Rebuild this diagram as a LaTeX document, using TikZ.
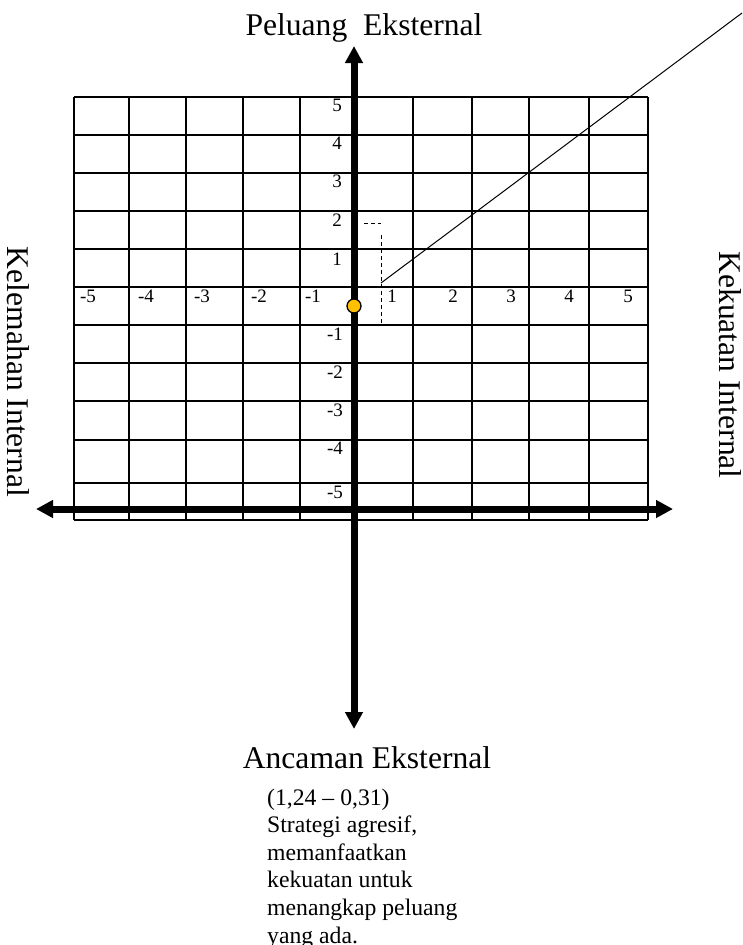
\documentclass[tikz,border=0pt]{standalone}
\usepackage{fontspec}
\setmainfont{Liberation Serif}
\usetikzlibrary{arrows.meta}
\definecolor{kuning}{HTML}{FFC000}
\tikzset{
  kisi/.style={line width=2pt},
  sumbu/.style={line width=7pt,{Triangle[width=17pt,length=17pt]}-{Triangle[width=17pt,length=17pt]}},
  angka/.style={inner sep=0pt,font=\fontsize{19}{22}\selectfont},
  judul/.style={inner sep=0pt,font=\fontsize{31.6}{38}\selectfont},
  titikstyle/.style={circle,draw,fill=kuning,line width=1.3pt,minimum size=14pt,inner sep=0pt},
}
\begin{document}
\begin{tikzpicture}[x=1pt,y=-1pt]
\useasboundingbox (0,0) rectangle (743,945);
% grid
\foreach \x in {74,129,186,243,300,357,413,472,529,589,648}
  \draw[kisi] (\x,97) -- (\x,520);
\foreach \y in {97,135,173,211,249,287,325,363,401,440,483,520}
  \draw[kisi] (74,\y) -- (648,\y);
% axis labels
\foreach \y/\t in {105/5,143/4,181/3,220/2,259/1}
  \node[angka] (ky\t) at (337,\y) {\t};
\foreach \y/\t in {334/-1,372/-2,410/-3,448/-4,492/-5}
  \node[angka] (ky\t) at (335,\y) {\t};
\foreach \x/\t in {88/-5,146/-4,202/-3,259/-2,313/-1,392/1,453/2,511/3,569/4,628/5}
  \node[angka] (kx\t) at (\x,296) {\t};
% axes
\coordinate (atas) at (354,46);
\coordinate (bawah) at (354,729);
\coordinate (kiri) at (36,509);
\coordinate (kanan) at (673,509);
\draw[sumbu] (atas) -- (bawah);
\draw[sumbu] (kiri) -- (kanan);
% position
\coordinate (sudut) at (364,223);
\coordinate (pojok) at (381,223);
\coordinate (awal) at (381,283);
\coordinate (dasar) at (381,325);
\coordinate (ujung) at (742,13);
\draw[dashed,dash pattern=on 4pt off 3pt,line width=1pt] (sudut) -- (pojok);
\draw[dashed,dash pattern=on 4pt off 3pt,line width=1pt] (381,235) -- (dasar);
\draw[line width=1pt] (awal) -- (ujung);
\node[titikstyle] (titik) at (354,306) {};
% titles
\node[judul,anchor=base] (peluang) at (364,35) {Peluang\ \ Eksternal};
\node[judul,anchor=base] (ancaman) at (367,768) {Ancaman Eksternal};
\node[judul,rotate=-90] (kelemahan) at (18,372) {Kelemahan Internal};
\node[judul,rotate=-90] (kekuatan) at (730,365) {Kekuatan Internal};
\node[inner sep=0pt,anchor=north west,align=left,font=\fontsize{23.7}{27.6}\selectfont]
  (ket) at (267,788.5) {(1,24 -- 0,31)\\Strategi agresif,\\memanfaatkan\\kekuatan untuk\\menangkap peluang\\yang ada.};
\end{tikzpicture}
\end{document}
